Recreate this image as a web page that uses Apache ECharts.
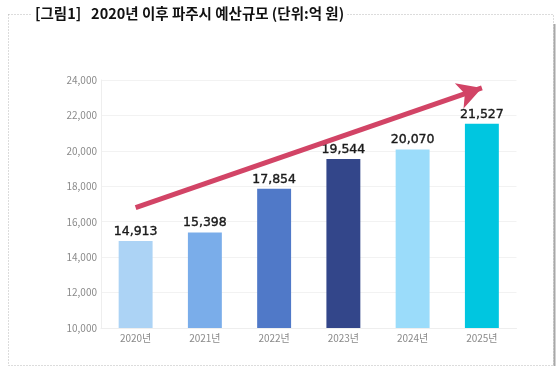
<!DOCTYPE html>
<html>
<head>
<meta charset="utf-8">
<script src="https://cdn.jsdelivr.net/npm/echarts@6/dist/echarts.min.js"></script>
<style>
html,body{margin:0;padding:0;background:#fff;}
#chart{width:560px;height:374px;}
</style>
</head>
<body>
<div id="chart"></div>
<script>
const titleText = '[그림1]   2020년 이후 파주시 예산규모 (단위:억 원)';
const categories = ['2020년', '2021년', '2022년', '2023년', '2024년', '2025년'];
const budget = [14913, 15398, 17854, 19544, 20070, 21527];
const barColors = ['#acd3f5', '#7aadea', '#5079c8', '#33468a', '#9bdcfa', '#00c6e0'];
const yTicks = { min: 10000, max: 24000, interval: 2000 };
const trendArrow = [[0, 16800], [5, 23550]];

const chart = echarts.init(document.getElementById('chart'), null, { renderer: 'canvas' });
chart.setOption({
  animation: false,
  backgroundColor: '#fff',
  title: {
    text: titleText,
    left: 32,
    top: 6,
    padding: [0, 3],
    backgroundColor: '#fff',
    textStyle: { fontFamily: 'Noto Sans CJK KR', fontWeight: 'bold', fontSize: 14.5, color: '#111' }
  },
  graphic: [
    { type: 'rect', z: 0, shape: { x: 8.5, y: 14.5, width: 545, height: 351 },
      style: { fill: 'none', stroke: '#b8b8b8', lineWidth: 1, lineDash: [1, 2] } },
    { type: 'line', z: 0, shape: { x1: 554.5, y1: 24, x2: 554.5, y2: 366 },
      style: { stroke: '#a8a8a8', lineWidth: 2 } }
  ],
  grid: { left: 101, right: 43.5, top: 80, bottom: 46, containLabel: false },
  xAxis: {
    type: 'category',
    data: categories,
    axisLine: { lineStyle: { color: '#eeeeee' } },
    axisTick: { show: false },
    axisLabel: { color: '#8a8a8a', fontSize: 10, margin: 5, fontFamily: 'Noto Sans CJK KR' }
  },
  yAxis: {
    type: 'value',
    min: yTicks.min, max: yTicks.max, interval: yTicks.interval,
    axisLine: { show: true, lineStyle: { color: '#eeeeee' } },
    axisTick: { show: false },
    splitLine: { lineStyle: { color: '#f2f2f2' } },
    axisLabel: {
      color: '#8a8a8a', fontSize: 10, margin: 4, fontFamily: 'Noto Sans CJK KR',
      formatter: v => v.toLocaleString('en-US')
    }
  },
  series: [{
    type: 'bar',
    data: budget.map((v, i) => ({ value: v, itemStyle: { color: barColors[i] } })),
    barWidth: '49%',
    label: {
      show: true, position: 'top', distance: 3,
      color: '#1a1a1a', fontSize: 12.5, fontFamily: 'DejaVu Sans',
      textBorderColor: '#1a1a1a', textBorderWidth: 0.4,
      formatter: p => p.value.toLocaleString('en-US')
    },
    markLine: {
      silent: true,
      symbol: ['none', 'arrow'],
      symbolSize: [20, 24],
      label: { show: false },
      lineStyle: { color: '#d24466', width: 5, type: 'solid' },
      data: [[{ coord: trendArrow[0] }, { coord: trendArrow[1] }]]
    }
  }]
});
</script>
</body>
</html>
